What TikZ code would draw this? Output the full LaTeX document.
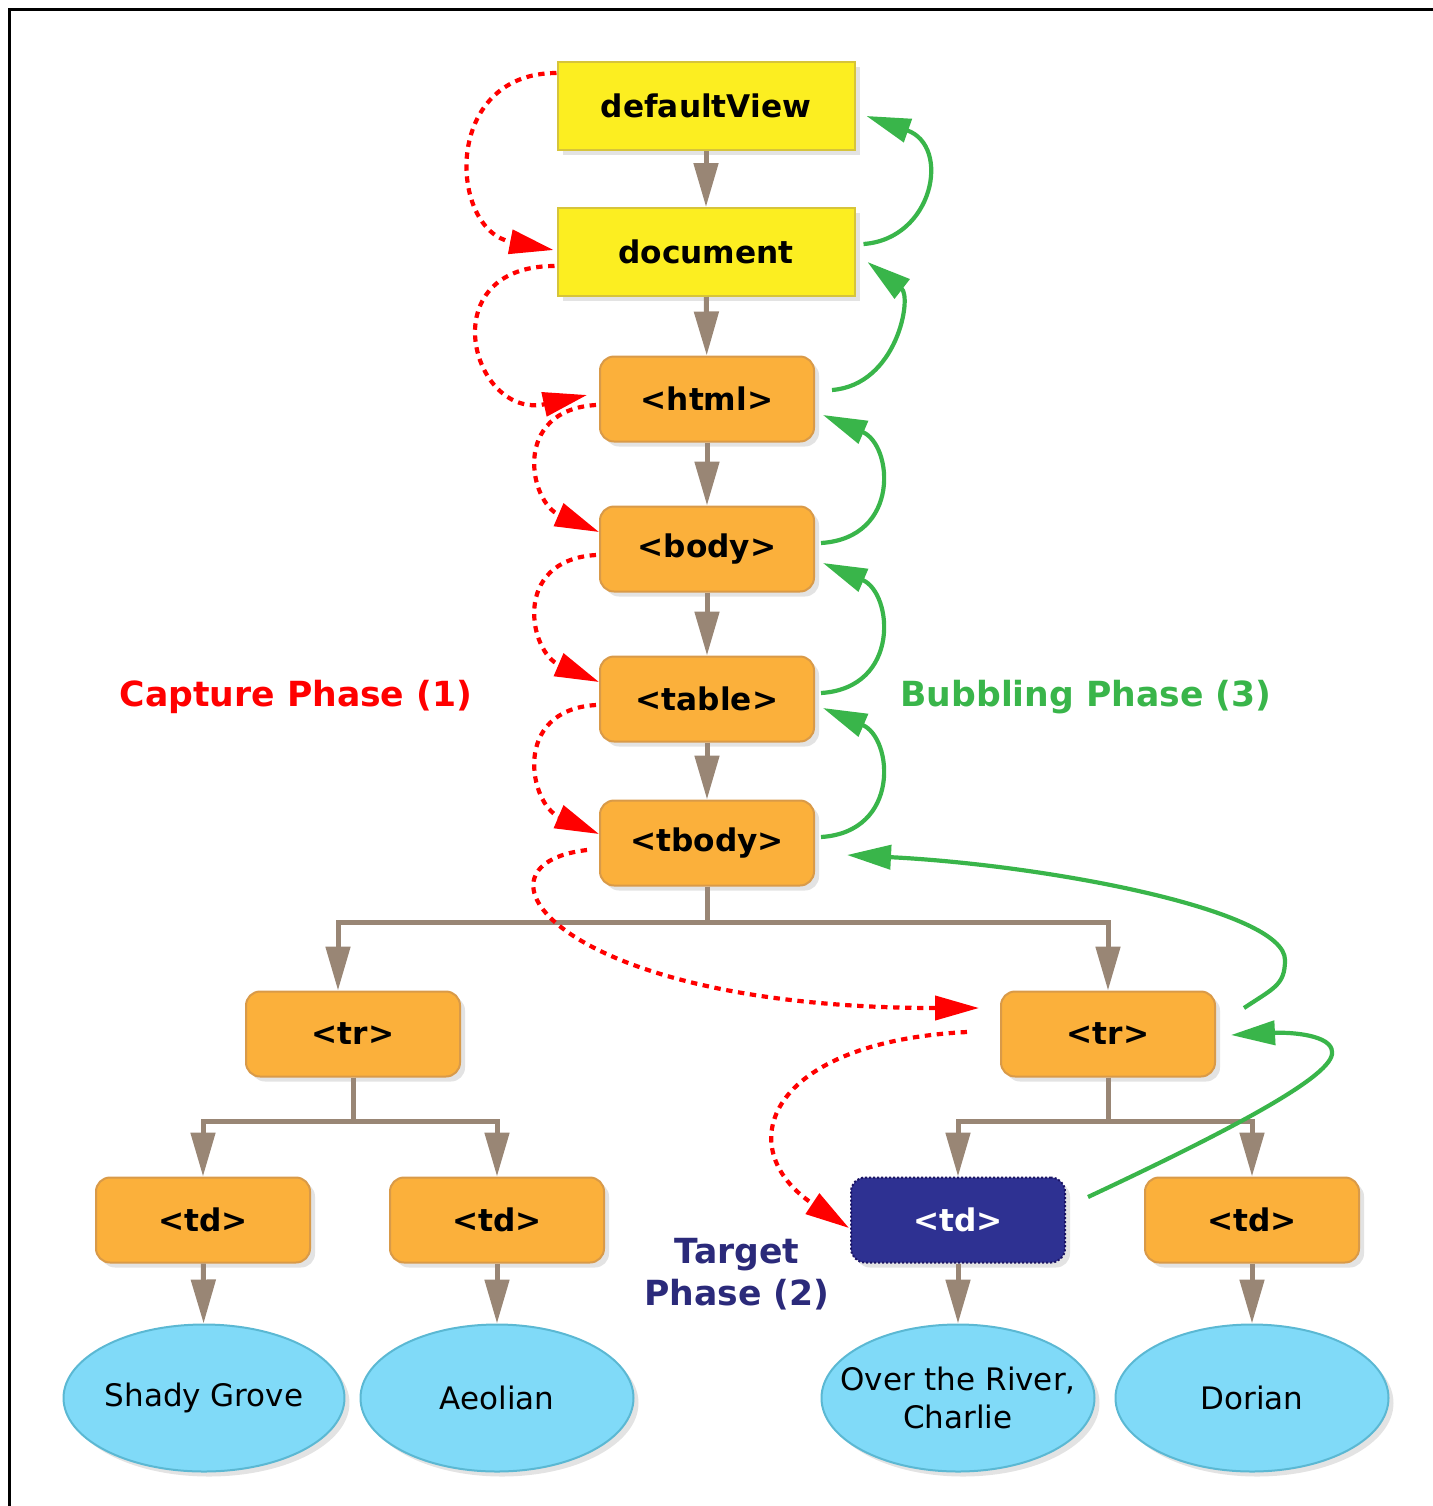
\documentclass[tikz,border=0pt]{standalone}
\usepackage{fontspec}
\setmainfont{DejaVu Sans}
\usetikzlibrary{arrows.meta,shapes.geometric,shadows,calc}

\definecolor{winyellow}{HTML}{FCEE21}
\definecolor{winedge}{HTML}{D6C43A}
\definecolor{elorange}{HTML}{FBB03B}
\definecolor{eledge}{HTML}{D99A48}
\definecolor{leafblue}{HTML}{80DAF8}
\definecolor{leafedge}{HTML}{5BB8D3}
\definecolor{tgtfill}{HTML}{2E3192}
\definecolor{tgtedge}{HTML}{1B1464}
\definecolor{treebrown}{HTML}{998675}
\definecolor{capred}{HTML}{FF0000}
\definecolor{bubgreen}{HTML}{39B54A}
\definecolor{tgtnavy}{HTML}{2B2A7A}

\begin{document}
\begin{tikzpicture}[x=0.5pt,y=-0.5pt,
    >={Triangle[length=22pt,width=12pt]},
    boxshadow/.style={drop shadow={shadow xshift=2.5pt,shadow yshift=-2.5pt,fill=black!11,opacity=1}},
    winbox/.style={rectangle,fill=winyellow,draw=winedge,line width=1pt,boxshadow,
        minimum width=148.5pt,minimum height=44pt,inner sep=0pt,
        font=\bfseries\fontsize{15.6}{19}\selectfont},
    elbox/.style={rectangle,rounded corners=7pt,fill=elorange,draw=eledge,line width=1pt,boxshadow,
        minimum width=107pt,minimum height=42.5pt,inner sep=0pt,
        font=\bfseries\fontsize{15.6}{19}\selectfont},
    targetbox/.style={elbox,fill=tgtfill,draw=tgtedge,densely dotted,text=white},
    leaf/.style={ellipse,fill=leafblue,draw=leafedge,line width=1pt,boxshadow,
        minimum width=136.5pt,minimum height=73.5pt,inner sep=0pt,align=center,
        font=\fontsize{15.5}{19}\selectfont},
    phase/.style={font=\bfseries\fontsize{17.3}{21}\selectfont,align=center},
    tree/.style={draw=treebrown,line width=2.5pt,->},
    capture/.style={draw=capred,line width=2.1pt,dash pattern=on 3.2pt off 2.8pt,->},
    bubble/.style={draw=bubgreen,line width=2.1pt,->}]
    \useasboundingbox (0,0) rectangle (1433,1506);

    % frame
    \draw[line width=1.5pt] (9,1506) -- (9,9) -- (1433,9);

    % window and document
    \node[winbox] (dv) at (706,106) {defaultView};
    \node[winbox] (doc) at (706,252) {document};

    % elements
    \node[elbox] (html) at (707,399) {<html>};
    \node[elbox] (body) at (707,549) {<body>};
    \node[elbox] (table) at (707,699) {<table>};
    \node[elbox] (tbody) at (707,843) {<tbody>};
    \node[elbox] (trL) at (353,1034) {<tr>};
    \node[elbox] (trR) at (1108,1034) {<tr>};
    \node[elbox] (tdA) at (203,1220) {<td>};
    \node[elbox] (tdB) at (497,1220) {<td>};
    \node[targetbox] (tdC) at (958,1220) {<td>};
    \node[elbox] (tdD) at (1252,1220) {<td>};

    % text leaves
    \node[leaf] (shady) at (204,1398) {Shady Grove};
    \node[leaf] (aeolian) at (497,1398) {Aeolian};
    \node[leaf,inner xsep=-12pt] (river) at (958,1398) {Over the River,\\Charlie};
    \node[leaf] (dorian) at (1252,1398) {Dorian};

    % phase labels
    \node[phase,text=capred] (capture) at (296,697) {Capture Phase (1)};
    \node[phase,text=bubgreen] (bubbling) at (1086,697) {Bubbling Phase (3)};
    \node[phase,text=tgtnavy] (target) at (737,1274) {Target\\Phase (2)};

    % tree
    \foreach \a/\b in {dv/doc, doc/html, html/body, body/table, table/tbody}
        \draw[tree] (\a) -- (\b);
    \draw[tree] (tbody.south) -- ++(0,36) -| ($(trL.north)+(-15,0)$);
    \draw[tree] (tbody.south) -- ++(0,36) -| (trR.north);
    \draw[tree] (trL.south) -- ++(0,44) -| (tdA.north);
    \draw[tree] (trL.south) -- ++(0,44) -| (tdB.north);
    \draw[tree] (trR.south) -- ++(0,44) -| (tdC.north);
    \draw[tree] (trR.south) -- ++(0,44) -| (tdD.north);
    \foreach \a/\b in {tdA/shady, tdB/aeolian, tdC/river, tdD/dorian}
        \draw[tree] (\a) -- (\b);

    % capture phase
    \draw[capture] ($(dv.west)+(0,-33)$) .. controls +(-115,0) and +(-105,-20) .. ($(doc.west)+(-3,-2)$);
    \draw[capture] ($(doc.west)+(-2,14)$) .. controls +(-125,0) and +(-115,25) .. ($(html.west)+(-12,-4)$);
    \foreach \a/\b/\s in {html/body/-17, body/table/-17, table/tbody/-9}
        \draw[capture] ($(\a.west)+(-3,6)$) .. controls +(-85,5) and +(-70,-30) .. ($(\b.west)+(0,\s)$);
    \draw[capture] ($(tbody.west)+(-12,7)$) .. controls +(-130,15) and +(-420,0) .. ($(trR.west)+(-21,-26)$);
    \draw[capture] ($(trR.west)+(-33,-2)$) .. controls +(-200,10) and +(-120,-80) .. ($(tdC.west)+(-1,8)$);

    % bubbling phase
    \coordinate (gTurn) at (1285,960);
    \coordinate (gLoop) at (1332,1052);
    \draw[bubble] ($(doc.east)+(8,-8)$) .. controls +(70,-5) and +(85,30) .. ($(dv.east)+(11,10)$);
    \draw[bubble] ($(html.east)+(17,-9)$) .. controls +(65,-5) and +(45,35) .. ($(doc.east)+(12,10)$);
    \foreach \a/\b/\s in {body/html/16, table/body/14, tbody/table/9}
        \draw[bubble] ($(\a.east)+(6,-6)$) .. controls +(80,-5) and +(70,30) .. ($(\b.east)+(8,\s)$);
    \draw[bubble] ($(trR.east)+(28,-26)$) .. controls +(30,-20) and +(0,25) .. (gTurn)
        .. controls +(0,-50) and +(200,10) .. ($(tbody.east)+(32,12)$);
    \draw[bubble] ($(tdC.east)+(22,-23)$) .. controls +(143,-67) and +(3,23) .. (gLoop)
        .. controls +(0,-17) and +(60,-3) .. ($(trR.east)+(15,1)$);
\end{tikzpicture}
\end{document}
